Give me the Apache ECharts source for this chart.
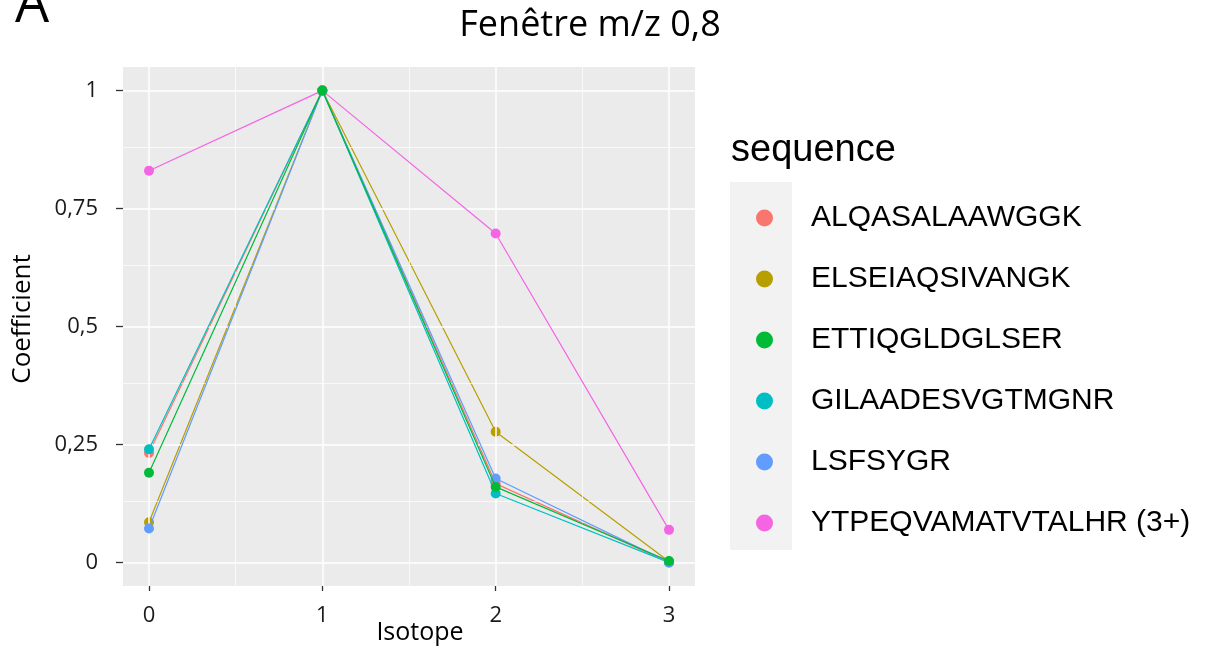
<!DOCTYPE html>
<html>
<head>
<meta charset="UTF-8">
<title>Fenêtre m/z 0,8</title>
<script src="https://cdn.jsdelivr.net/npm/echarts@6/dist/echarts.min.js"></script>
<style>
  html, body { margin: 0; padding: 0; background: #fff; }
  #chart { width: 1231px; height: 654px; }
</style>
</head>
<body>
<div id="chart"></div>
<script>
// isotopes on the x axis
var isotopes = [0, 1, 2, 3];

// peptide sequences (legend order)
var sequences = ['ALQASALAAWGGK', 'ELSEIAQSIVANGK', 'ETTIQGLDGLSER',
  'GILAADESVGTMGNR', 'LSFSYGR', 'YTPEQVAMATVTALHR (3+)'];
var colors = ['#F8766D', '#B79F00', '#00BA38', '#00BFC4', '#619CFF', '#F564E3'];

// coefficient per isotope
var alqasalaawggk = [0.232, 1, 0.167, 0.0];
var elseiaqsivangk = [0.085, 1, 0.277, 0.002];
var ettiqgldglser = [0.19, 1, 0.16, 0.003];
var gilaadesvgtmgnr = [0.24, 1, 0.146, 0.0];
var lsfsygr = [0.072, 1, 0.178, 0.0];
var ytpeqvamatvtalhr = [0.83, 1, 0.697, 0.069];
var values = [alqasalaawggk, elseiaqsivangk, ettiqgldglser, gilaadesvgtmgnr, lsfsygr, ytpeqvamatvtalhr];

// axis breaks
var xTicks = [0, 1, 2, 3];
var xMinor = [0.5, 1.5, 2.5];
var yTicks = [0, 0.25, 0.5, 0.75, 1];
var yMinor = [0.125, 0.375, 0.625, 0.875];

var chart = echarts.init(document.getElementById('chart'));

function comma(v) { return String(v).replace('.', ','); }

// panel grid lines (ggplot style) drawn as mark lines
var gridLines = [];
xTicks.forEach(function (v) { gridLines.push({ xAxis: v, lineStyle: { color: '#fff', width: 1.5, type: 'solid' } }); });
xMinor.forEach(function (v) { gridLines.push({ xAxis: v, lineStyle: { color: '#fff', width: 0.7, type: 'solid' } }); });
yTicks.forEach(function (v) { gridLines.push({ yAxis: v, lineStyle: { color: '#fff', width: 1.5, type: 'solid' } }); });
yMinor.forEach(function (v) { gridLines.push({ yAxis: v, lineStyle: { color: '#fff', width: 0.7, type: 'solid' } }); });

var series = [{
  name: '_grid',
  type: 'line',
  data: [],
  z: 1,
  silent: true,
  markLine: { silent: true, symbol: 'none', label: { show: false }, data: gridLines, animation: false }
}];

sequences.forEach(function (name, i) {
  series.push({
    name: name,
    type: 'line',
    data: isotopes.map(function (x, k) { return [x, values[i][k]]; }),
    symbol: 'circle',
    symbolSize: 10,
    showSymbol: true,
    z: i === 2 ? 9 : 3 + i,
    lineStyle: { width: 1.2, color: colors[i] },
    itemStyle: { color: colors[i] }
  });
});

chart.setOption({
  animation: false,
  color: colors,
  graphic: [
    { type: 'text', left: 15, top: -20, style: { text: 'A', font: '54px "Open Sans"', fill: '#000' } },
    { type: 'rect', shape: { x: 730, y: 182, width: 62, height: 368 }, style: { fill: '#F2F2F2' }, z: -1 },
    { type: 'text', x: 731, y: 151, style: { text: 'sequence', font: '38px "Liberation Sans"', fill: '#000', verticalAlign: 'middle' } },
    { type: 'text', x: 420, y: 633, style: { text: 'Isotope', font: '25px "Open Sans"', fill: '#000', align: 'center', verticalAlign: 'middle' } },
    { type: 'text', x: 23, y: 319, rotation: Math.PI / 2, style: { text: 'Coefficient', font: '26px "Open Sans"', fill: '#000', align: 'center', verticalAlign: 'middle' } }
  ],
  title: {
    text: 'Fenêtre m/z 0,8',
    left: 585,
    textAlign: 'center',
    top: 3,
    textStyle: { fontFamily: 'Open Sans', fontSize: 36, fontWeight: 'normal', color: '#000' }
  },
  legend: {
    data: sequences,
    orient: 'vertical',
    left: 751,
    top: 198,
    icon: 'circle',
    itemWidth: 17,
    itemHeight: 17,
    itemGap: 31,
    selectedMode: false,
    textStyle: { fontFamily: 'Liberation Sans', fontSize: 30, lineHeight: 30, color: '#000', padding: [0, 0, 0, 33] }
  },
  grid: {
    left: 123, top: 67, width: 572, height: 519,
    show: true, backgroundColor: '#EBEBEB', borderWidth: 0
  },
  xAxis: {
    type: 'value',
    min: -0.15, max: 3.15,
    axisLine: { show: false, onZero: false },
    axisTick: { show: true, length: 5, customValues: xTicks, lineStyle: { color: '#333', width: 1.3 } },
    axisLabel: { customValues: xTicks, margin: 19, fontFamily: 'Open Sans', fontSize: 22, color: '#1a1a1a' },
    splitLine: { show: false }
  },
  yAxis: {
    type: 'value',
    min: -0.05, max: 1.05,
    axisLine: { show: false, onZero: false },
    axisTick: { show: true, length: 7, customValues: yTicks, lineStyle: { color: '#333', width: 1.3 } },
    axisLabel: { customValues: yTicks, margin: 25, fontFamily: 'Open Sans', fontSize: 22, color: '#1a1a1a', formatter: comma },
    splitLine: { show: false }
  },
  series: series
});
</script>
</body>
</html>
